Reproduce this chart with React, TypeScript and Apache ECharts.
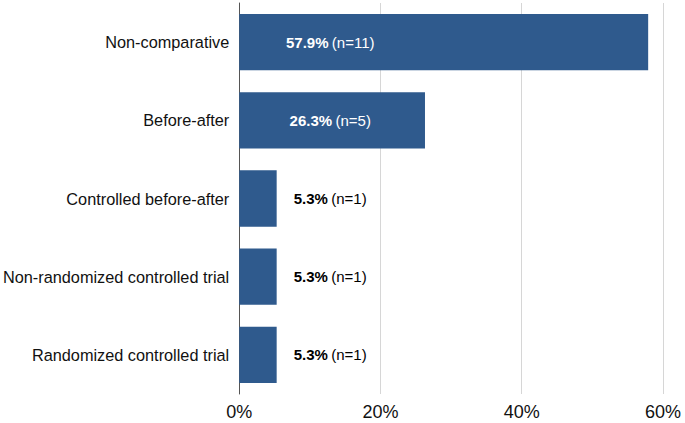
import React, { useEffect, useRef } from "react";
import * as echarts from "echarts";

const categories = [
  "Non-comparative",
  "Before-after",
  "Controlled before-after",
  "Non-randomized controlled trial",
  "Randomized controlled trial",
];
const percentages = [57.9, 26.3, 5.3, 5.3, 5.3];
const counts = [11, 5, 1, 1, 1];
const xTicks = [0, 20, 40, 60];

const FONT = "'Liberation Sans', Arial, Helvetica, sans-serif";

export default function App() {
  const ref = useRef<HTMLDivElement>(null);
  useEffect(() => {
    if (!ref.current) return;
    const chart = echarts.init(ref.current, null, { renderer: "svg" });
    const data = percentages.map((v) => {
      const inside = v > 20;
      const color = inside ? "#ffffff" : "#000000";
      return {
        value: v,
        label: {
          rich: {
            b: { fontWeight: "bold", fontSize: 15, color, fontFamily: FONT },
            n: { fontSize: 15, color, fontFamily: FONT },
          },
        },
      };
    });
    chart.setOption({
      animation: false,
      grid: { left: 237, right: 22, top: 3, bottom: 29, containLabel: false },
      xAxis: {
        type: "value",
        min: xTicks[0],
        max: xTicks[xTicks.length - 1],
        interval: 20,
        axisLine: { show: false },
        axisTick: { show: false },
        splitLine: { show: true, lineStyle: { color: "#d6d6d6", width: 1 } },
        axisLabel: {
          formatter: "{value}%",
          fontSize: 18,
          color: "#111",
          fontFamily: FONT,
          margin: 9,
        },
      },
      yAxis: {
        type: "category",
        data: categories,
        inverse: true,
        axisLine: { show: true, lineStyle: { color: "#555", width: 1 } },
        axisTick: { show: false },
        axisLabel: {
          fontSize: 16.3,
          color: "#111",
          fontFamily: FONT,
          margin: 10,
        },
      },
      series: [
        {
          type: "bar",
          data,
          barCategoryGap: "28%",
          itemStyle: { color: "#2F5A8D" },
          label: {
            show: true,
            position: [91, "50%"],
            align: "center",
            verticalAlign: "middle",
            formatter: (p: any) =>
              `{b|${percentages[p.dataIndex].toFixed(1)}%} {n|(n=${counts[p.dataIndex]})}`,
          },
        },
      ],
    });
    return () => chart.dispose();
  }, []);
  return (
    <div
      ref={ref}
      style={{ position: "absolute", left: 0, top: 0, width: 685, height: 423, overflow: "hidden" }}
    />
  );
}
